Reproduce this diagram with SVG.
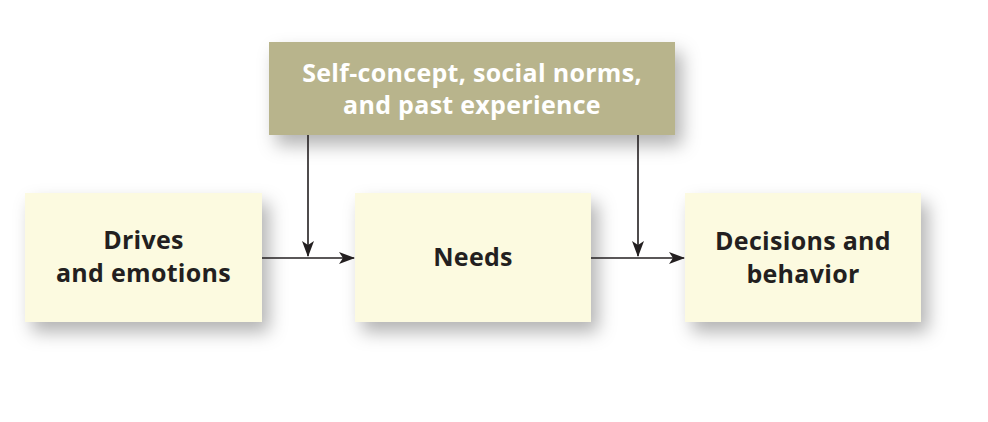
<svg xmlns="http://www.w3.org/2000/svg" width="988" height="422" viewBox="0 0 988 422">
<defs>
<style>
.box{fill:#fcfae0;filter:url(#sh)}
.top{fill:#b8b48c;filter:url(#sh)}
.t{font-family:"Open Sans","Liberation Sans",sans-serif;font-weight:700;font-size:25px;letter-spacing:0.3px;text-anchor:middle;fill:#231f20}
.tw{fill:#ffffff}
.c{stroke:#231f20;stroke-width:1.6;fill:none;marker-end:url(#ah)}
</style>
<filter id="sh" x="-20%" y="-30%" width="150%" height="180%">
<feDropShadow dx="7" dy="10" stdDeviation="9" flood-color="#000" flood-opacity="0.3"/>
</filter>
<marker id="ah" viewBox="0 0 16 12" refX="15" refY="6" markerWidth="16" markerHeight="12" markerUnits="userSpaceOnUse" orient="auto">
<path d="M0,0 L16,6 L0,12 L4,6 Z" fill="#231f20"/>
</marker>
</defs>
<rect width="988" height="422" fill="#ffffff"/>
<g id="selfconcept">
<rect class="top" x="269" y="42" width="406" height="93"/>
<text class="t tw" x="472" y="82">Self-concept, social norms,</text>
<text class="t tw" x="472" y="114">and past experience</text>
</g>
<g id="drives">
<rect class="box" x="25" y="193" width="237" height="129"/>
<text class="t" x="143.5" y="249">Drives</text>
<text class="t" x="143.5" y="282">and emotions</text>
</g>
<g id="needs">
<rect class="box" x="355" y="193" width="236" height="129"/>
<text class="t" x="473" y="266">Needs</text>
</g>
<g id="decisions">
<rect class="box" x="685" y="193" width="236" height="129"/>
<text class="t" x="803" y="250">Decisions and</text>
<text class="t" x="803" y="283">behavior</text>
</g>
<g id="connectors">
<path class="c" d="M262,258 H354"/>
<path class="c" d="M308,135 V256"/>
<path class="c" d="M591,258 H684"/>
<path class="c" d="M638,135 V256"/>
</g>
</svg>
